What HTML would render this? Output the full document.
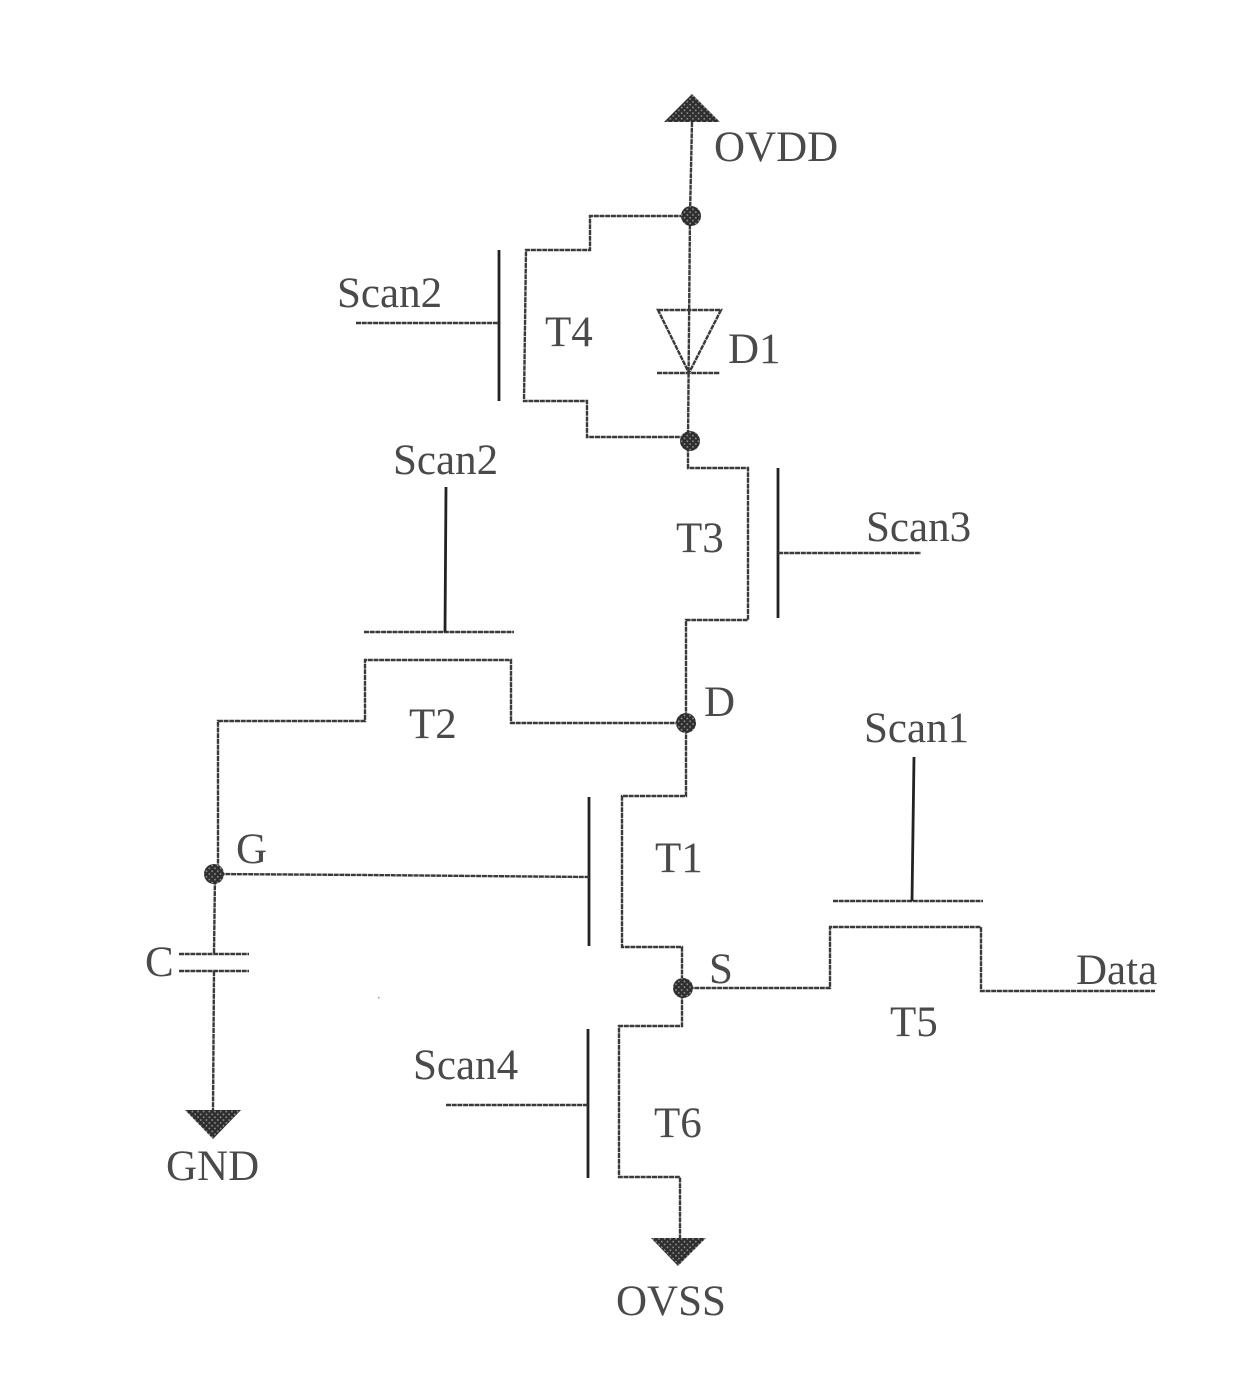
<!DOCTYPE html>
<html>
<head>
<meta charset="utf-8">
<style>
html,body{margin:0;padding:0;background:#fff}
svg{display:block}
text{font-family:"Liberation Serif",serif;font-size:43px;fill:#4a4a4a}
.w{fill:none;stroke:#3a3a3a;stroke-width:2.4;stroke-dasharray:5 .7}
.g{fill:none;stroke:#222;stroke-width:2.8}
.f{fill:url(#dith)}
</style>
</head>
<body>
<svg width="1240" height="1394" viewBox="0 0 1240 1394" xmlns="http://www.w3.org/2000/svg">
<defs>
<pattern id="dith" width="4" height="4" patternUnits="userSpaceOnUse" patternTransform="rotate(45)">
<rect width="4" height="4" fill="#2e2e2e"/>
<circle cx="2" cy="2" r="0.9" fill="#9a9a9a"/>
</pattern>
</defs>
<!-- OVDD -->
<polygon class="f" points="692,94 664,122 720,122"/>
<path class="w" d="M692,122 L690,215 L688,441"/>
<!-- T4 -->
<path class="w" d="M690,216 H590 V250 H526 L524,401 H587 V437 H688"/>
<path class="g" d="M499,250 V401"/>
<path class="w" d="M356,323 H499"/>
<!-- D1 -->
<path class="w" d="M658,310 H721 L689,373 Z"/>
<path class="w" d="M657,373 H720"/>
<!-- T3 -->
<path class="w" d="M688,441 V468 H748 V620 H686 V722"/>
<path class="g" d="M778,468 V618"/>
<path class="w" d="M778,553 H921"/>
<!-- T2 -->
<path class="w" d="M686,723 H511 V660 H365 V721 H218 V874"/>
<path class="w" d="M364,632 H514"/>
<path class="g" d="M446,487 L445,632"/>
<!-- T1 -->
<path class="w" d="M686,723 V796 H622 V947 H682 V988"/>
<path class="g" d="M589,797 V946"/>
<path class="w" d="M214,874 L365,875 L589,877"/>
<!-- C -->
<path class="w" d="M215,874 L214,953"/>
<path class="w" d="M179,954 H249"/>
<path class="w" d="M179,971 H249"/>
<path class="w" d="M214,971 L213,1110"/>
<polygon class="f" points="185,1110 241,1110 213,1139"/>
<!-- T5 -->
<path class="w" d="M683,988 H830 V927 H981 V991 H1155"/>
<path class="w" d="M833,901 H983"/>
<path class="g" d="M914,757 L912,901"/>
<!-- T6 -->
<path class="w" d="M682,988 V1026 H619 V1177 H680 V1238"/>
<path class="g" d="M588,1029 V1178"/>
<path class="w" d="M446,1105 H588"/>
<polygon class="f" points="651,1238 706,1238 678,1266"/>
<!-- dots -->
<circle class="f" cx="691" cy="216" r="10"/>
<circle class="f" cx="690" cy="441" r="10"/>
<circle class="f" cx="686" cy="723" r="10"/>
<circle class="f" cx="214" cy="874" r="10"/>
<circle class="f" cx="683" cy="988" r="10"/>
<rect x="378" y="997" width="1.5" height="1.5" fill="#999"/>
<!-- labels -->
<text x="714" y="161">OVDD</text>
<text x="337" y="307">Scan2</text>
<text x="545" y="346">T4</text>
<text x="728" y="363">D1</text>
<text x="393" y="474">Scan2</text>
<text x="676" y="552">T3</text>
<text x="866" y="541">Scan3</text>
<text x="704" y="716">D</text>
<text x="409" y="738">T2</text>
<text x="864" y="742">Scan1</text>
<text x="236" y="863">G</text>
<text x="655" y="872">T1</text>
<text x="709" y="983">S</text>
<text x="1076" y="984">Data</text>
<text x="890" y="1036">T5</text>
<text x="145" y="976">C</text>
<text x="413" y="1079">Scan4</text>
<text x="654" y="1137">T6</text>
<text x="166" y="1180">GND</text>
<text x="616" y="1315">OVSS</text>
</svg>
</body>
</html>
